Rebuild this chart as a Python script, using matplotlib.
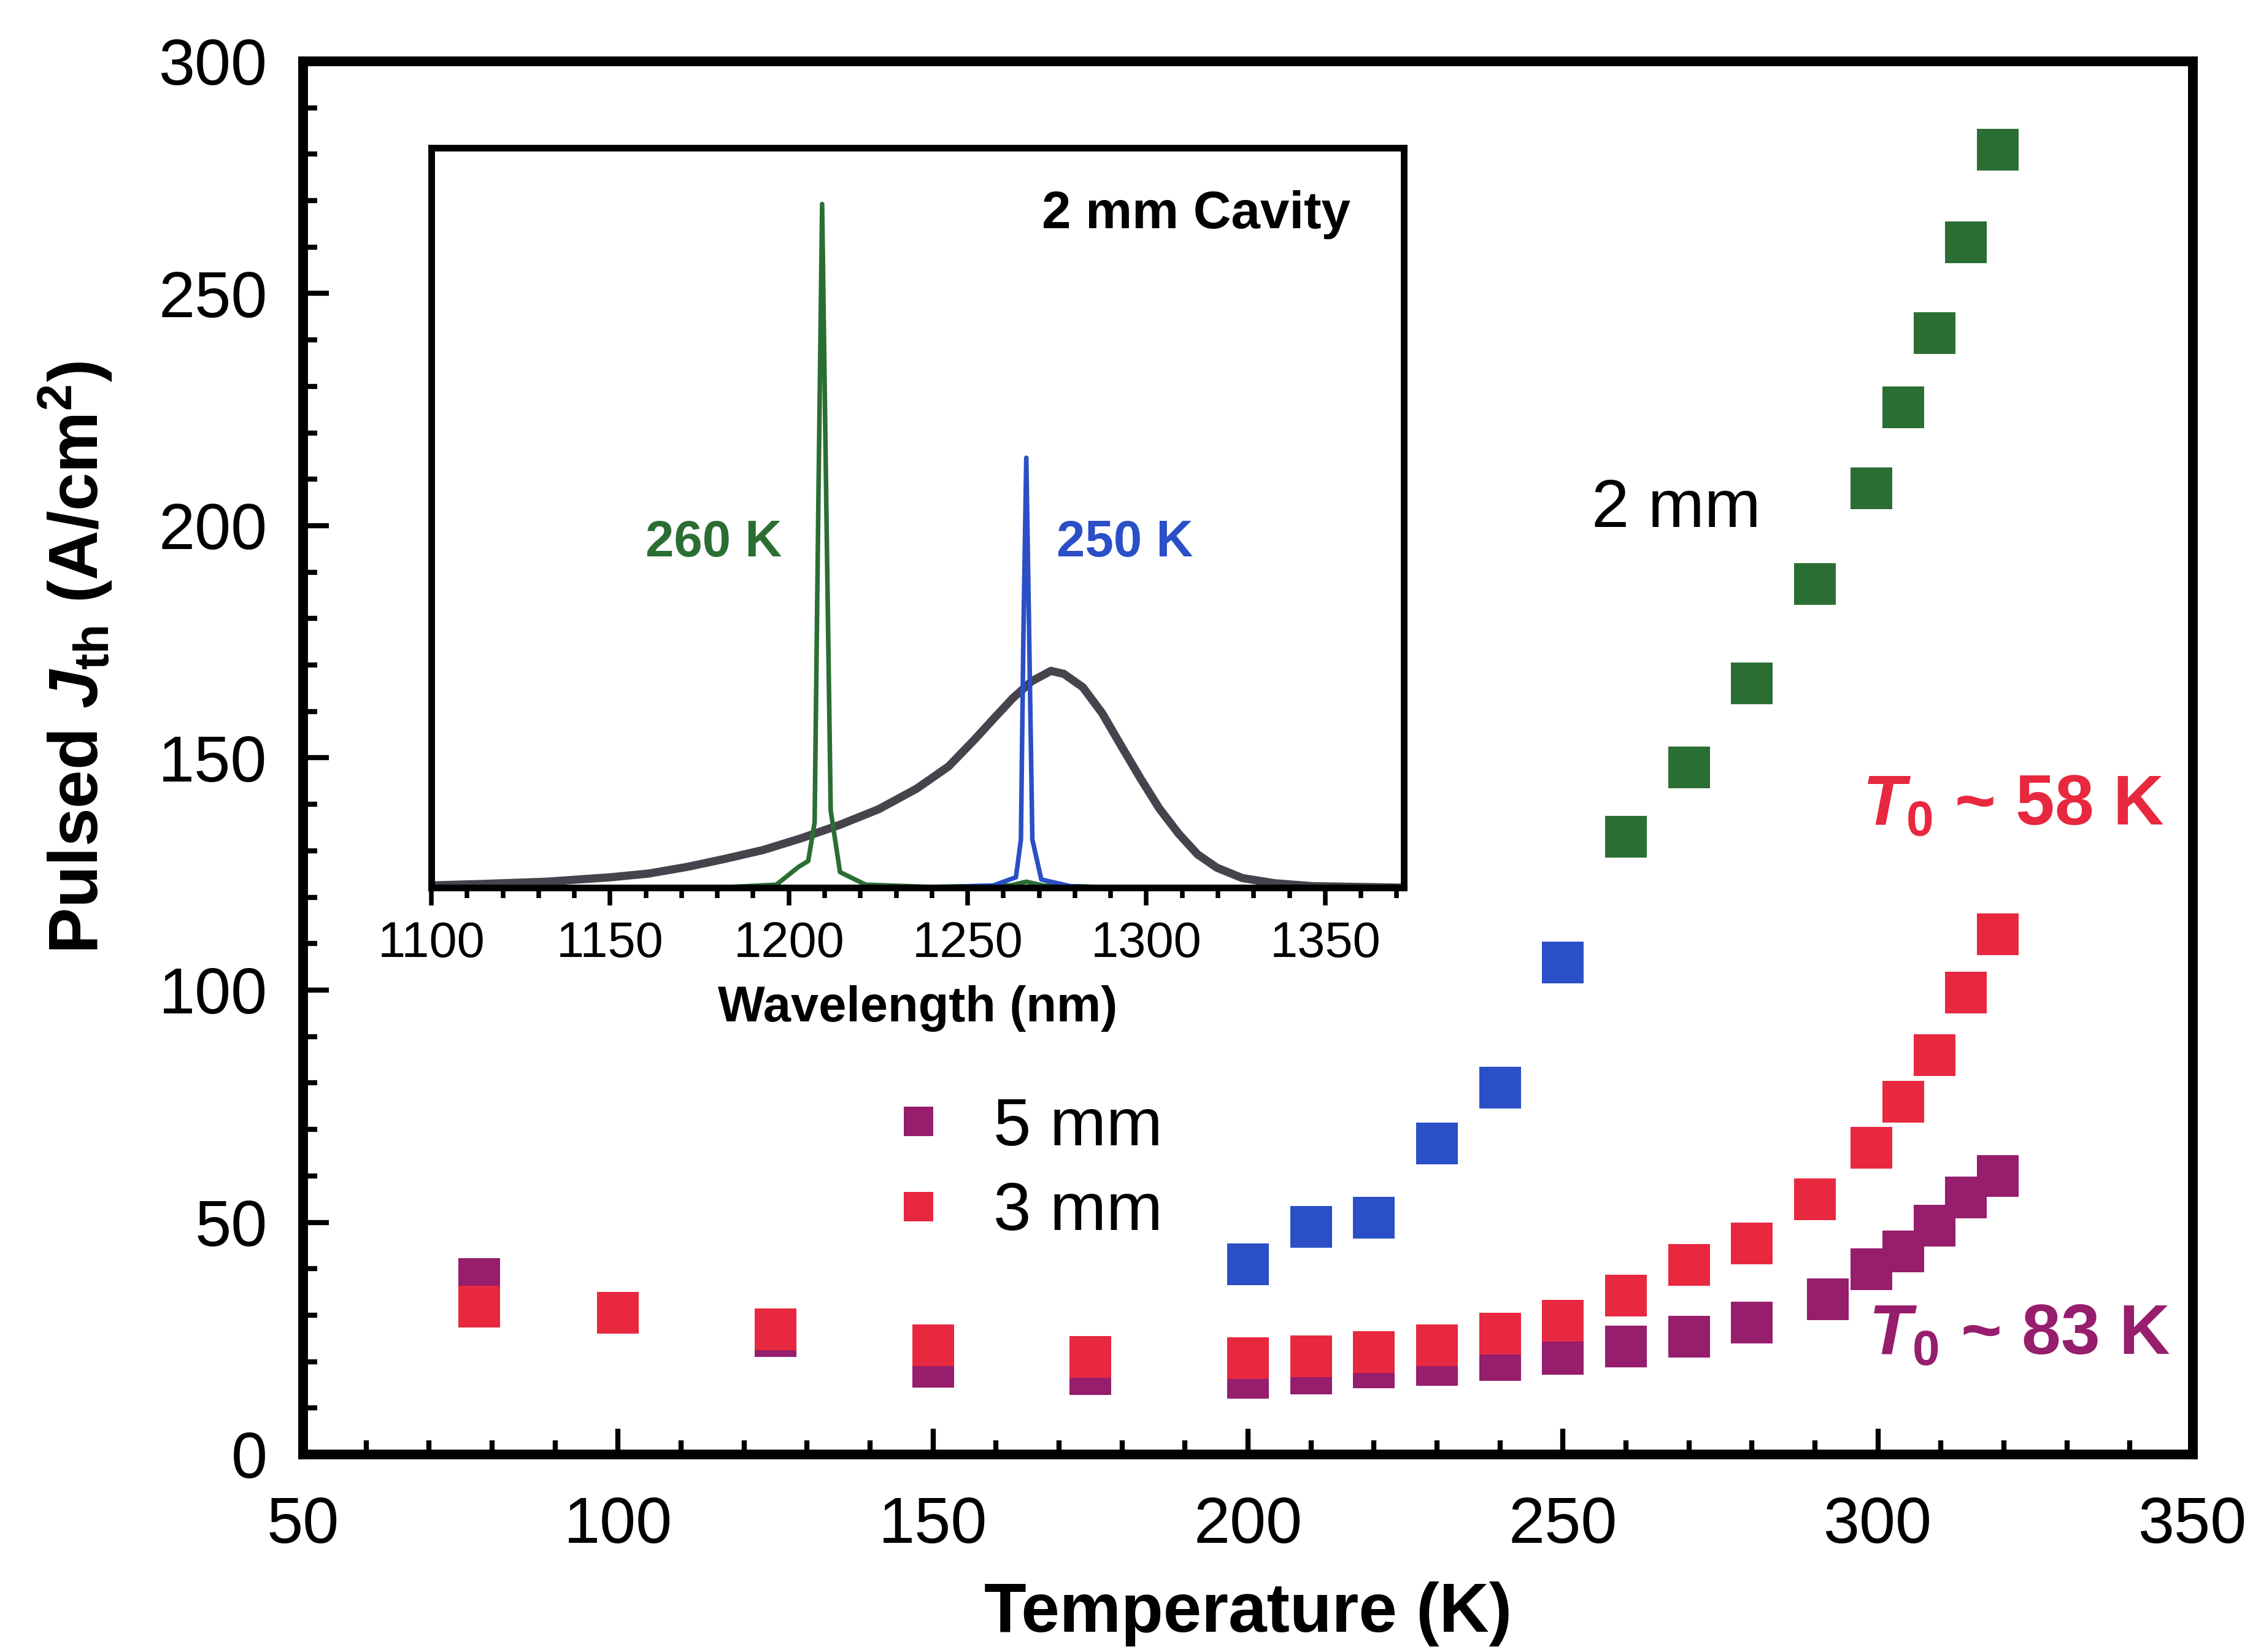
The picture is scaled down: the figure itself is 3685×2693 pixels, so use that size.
import numpy as np
import matplotlib
matplotlib.use("Agg")
import matplotlib.pyplot as plt
from matplotlib.lines import Line2D
from matplotlib.ticker import MultipleLocator

plt.rcParams["font.family"] = ["Liberation Sans", "DejaVu Sans"]
plt.rcParams["mathtext.fontset"] = "custom"
plt.rcParams["mathtext.rm"] = "Liberation Sans"
plt.rcParams["mathtext.it"] = "Liberation Sans:italic"
plt.rcParams["mathtext.bf"] = "Liberation Sans:bold"
plt.rcParams["mathtext.bfit"] = "Liberation Sans:bold:italic"

# --- main data: threshold current density vs temperature ---
temp_2mm_blue = [200, 210, 220, 230, 240, 250]
jth_2mm_blue = [41, 49, 51, 67, 79, 106]

temp_2mm_green = [260, 270, 280, 290, 299, 304, 309, 314, 319]
jth_2mm_green = [133, 148, 166, 187.5, 208, 225.5, 241.5, 261, 281]

temp_3mm = [78, 100, 125, 150, 175, 200, 210, 220, 230, 240, 250, 260, 270, 280, 290, 299, 304, 309, 314, 319]
jth_3mm = [31.8, 30.5, 27, 23.5, 21, 20.8, 21.2, 22, 23.5, 26, 28.8, 34.2, 40.8, 45.5, 55, 66, 76, 86, 99.5, 112]

temp_5mm = [78, 125, 150, 175, 200, 210, 220, 230, 240, 250, 260, 270, 280, 292, 299, 304, 309, 314, 319]
jth_5mm = [37.8, 25.5, 18.9, 17.3, 16.5, 17.5, 18.8, 19.3, 20.4, 21.6, 23.3, 25.4, 28.4, 33.4, 39.9, 43.7, 49.3, 55.4, 60]

# --- inset data: emission spectra (normalised intensity) ---
wl_spont = [1100, 1114.3, 1132.1, 1150, 1160.7, 1171.5, 1182.2, 1192.9, 1203.6, 1214.3, 1225.1,
            1235.8, 1244.7, 1251.9, 1257.2, 1262.6, 1267.9, 1273.3, 1276.9, 1282.2, 1287.6,
            1292.9, 1298.3, 1303.6, 1309, 1314.3, 1319.7, 1326.8, 1335.8, 1346.5, 1372]
int_spont = [0.003, 0.005, 0.008, 0.014, 0.019, 0.028, 0.039, 0.051, 0.067, 0.085, 0.106,
             0.134, 0.164, 0.200, 0.228, 0.256, 0.279, 0.293, 0.289, 0.271, 0.236,
             0.192, 0.148, 0.107, 0.073, 0.045, 0.027, 0.013, 0.006, 0.002, 0.0]

wl_260K = [1180, 1196.5, 1202.7, 1205.4, 1207.2, 1208.3, 1209.3, 1210.4, 1211.7, 1214.3, 1221.5,
           1239.4, 1262, 1266.4, 1271, 1293]
int_260K = [0.0, 0.004, 0.028, 0.036, 0.088, 0.541, 0.924, 0.541, 0.104, 0.021, 0.004,
            0.001, 0.003, 0.008, 0.003, 0.0]

wl_250K = [1239.4, 1257.2, 1263.5, 1264.9, 1265.6, 1266.4, 1267.2, 1268.1, 1270.6, 1278.7, 1291]
int_250K = [0.0, 0.003, 0.014, 0.065, 0.343, 0.581, 0.343, 0.065, 0.011, 0.002, 0.0]

green = "#2b6e34"
blue = "#2a4fc6"
red = "#e8283f"
purple = "#971d6d"
grey = "#47434c"

fig = plt.figure(figsize=(3685 / 300, 2693 / 300), dpi=300)
ax = fig.add_axes([494 / 3685, 1 - 2371 / 2693, (3574 - 494) / 3685, (2371 - 100) / 2693])

ms = 16.5
ax.plot(temp_5mm, jth_5mm, ls="none", marker="s", ms=ms, mew=0, color=purple)
ax.plot(temp_3mm, jth_3mm, ls="none", marker="s", ms=ms, mew=0, color=red)
ax.plot(temp_2mm_blue, jth_2mm_blue, ls="none", marker="s", ms=ms, mew=0, color=blue)
ax.plot(temp_2mm_green, jth_2mm_green, ls="none", marker="s", ms=ms, mew=0, color=green)

ax.set_xlim(50, 350)
ax.set_ylim(0, 300)
ax.xaxis.set_major_locator(MultipleLocator(50))
ax.xaxis.set_minor_locator(MultipleLocator(10))
ax.yaxis.set_major_locator(MultipleLocator(50))
ax.yaxis.set_minor_locator(MultipleLocator(10))
ax.tick_params(which="both", direction="in", top=False, right=False, width=2)
ax.tick_params(which="major", length=10, labelsize=25.5)
ax.tick_params(which="minor", length=5.5)
ax.tick_params(axis="y", pad=14)
ax.tick_params(axis="x", pad=16)
for s in ax.spines.values():
    s.set_linewidth(3.8)

ax.set_xlabel("Temperature (K)", fontsize=27, fontweight="bold", labelpad=10)
ax.set_ylabel(r"Pulsed $\mathbfit{J}_{\mathbf{th}}$ (A/cm$^{\mathbf{2}}$)", fontsize=27,
              fontweight="bold")
ax.yaxis.set_label_coords(-0.100, 0.572)

ax.text(268, 203.5, "2 mm", fontsize=26.5, ha="center", va="center")
ax.text(297.5, 139.5, r"$\mathbfit{T}_{\mathbf{0}}$ ~ 58 K", fontsize=27.5, fontweight="bold",
        color=red, ha="left", va="center")
ax.text(298.5, 25.5, r"$\mathbfit{T}_{\mathbf{0}}$ ~ 83 K", fontsize=27.5, fontweight="bold",
        color=purple, ha="left", va="center")

handles = [Line2D([], [], ls="none", marker="s", ms=11.3, mew=0, color=purple),
           Line2D([], [], ls="none", marker="s", ms=11.3, mew=0, color=red)]
ax.legend(handles, ["5 mm", "3 mm"], loc="upper left", bbox_to_anchor=(0.297, 0.281),
          frameon=False, fontsize=26.5, handlelength=0.6, handletextpad=0.8,
          labelspacing=0.33, borderpad=0)

# --- inset ---
ins = fig.add_axes([703 / 3685, 1 - 1447 / 2693, (2288 - 703) / 3685, (1447 - 241) / 2693])
ins.plot(wl_spont, int_spont, color=grey, lw=3.2)
ins.plot(wl_260K, int_260K, color=green, lw=1.8)
ins.plot(wl_250K, int_250K, color=blue, lw=1.8)
ins.set_xlim(1100, 1372)
ins.set_ylim(0, 1)
ins.set_yticks([])
ins.xaxis.set_major_locator(MultipleLocator(50))
ins.xaxis.set_minor_locator(MultipleLocator(10))
ins.tick_params(which="both", direction="out", width=1.8, top=False)
ins.tick_params(which="major", length=7, labelsize=19.5, pad=6)
ins.tick_params(which="minor", length=4)
for s in ins.spines.values():
    s.set_linewidth(2.6)
ins.set_xlabel("Wavelength (nm)", fontsize=19.5, fontweight="bold", labelpad=7)
ins.text(1357, 0.91, "2 mm Cavity", fontsize=20.5, fontweight="bold", ha="right", va="center")
ins.text(1179, 0.466, "260 K", fontsize=20, fontweight="bold", color=green, ha="center", va="center")
ins.text(1294, 0.466, "250 K", fontsize=20, fontweight="bold", color=blue, ha="center", va="center")

fig.savefig("out.png", dpi=300)
